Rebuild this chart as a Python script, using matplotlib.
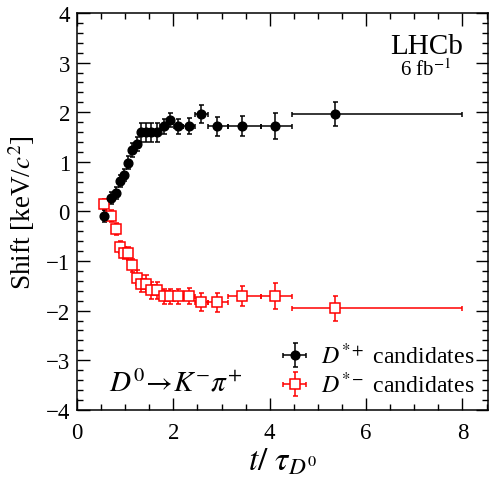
import numpy as np
import matplotlib
matplotlib.use("Agg")
import matplotlib.pyplot as plt
from matplotlib.ticker import MultipleLocator

plt.rcParams['font.family'] = ['Liberation Serif', 'DejaVu Serif']
plt.rcParams['mathtext.fontset'] = 'stix'

# bin centres and edges in t/tau
t_centres = [0.57, 0.71, 0.81, 0.90, 0.98, 1.07, 1.15, 1.245, 1.33, 1.43, 1.535,
             1.66, 1.80, 1.94, 2.10, 2.32, 2.57, 2.91, 3.43, 4.11, 5.35]
t_edges = [0.49, 0.64, 0.76, 0.85, 0.94, 1.02, 1.11, 1.20, 1.29, 1.38, 1.48,
           1.59, 1.73, 1.87, 2.02, 2.20, 2.45, 2.71, 3.13, 3.81, 4.47, 8.0]

# D*+ candidates
shift_plus = [-0.10, 0.27, 0.38, 0.62, 0.74, 0.98, 1.24, 1.36, 1.60, 1.60, 1.60,
              1.60, 1.72, 1.85, 1.72, 1.72, 1.97, 1.72, 1.72, 1.72, 1.97]
err_plus = [0.12, 0.12, 0.12, 0.12, 0.12, 0.13, 0.14, 0.15, 0.19, 0.19, 0.19,
            0.19, 0.15, 0.14, 0.15, 0.16, 0.18, 0.19, 0.20, 0.26, 0.24]

# D*- candidates
shift_minus = [0.14, -0.10, -0.35, -0.72, -0.84, -0.84, -1.09, -1.34, -1.46, -1.46, -1.59,
               -1.59, -1.71, -1.71, -1.71, -1.71, -1.83, -1.83, -1.70, -1.70, -1.95]
err_minus = [0.12, 0.12, 0.12, 0.12, 0.12, 0.13, 0.14, 0.15, 0.17, 0.17, 0.17,
             0.17, 0.15, 0.15, 0.15, 0.16, 0.18, 0.19, 0.20, 0.26, 0.25]

t = np.array(t_centres)
edges = np.array(t_edges)
xerr = np.vstack([t - edges[:-1], edges[1:] - t])

fig = plt.figure(figsize=(4.9, 4.85), dpi=100)
ax = fig.add_axes([0.157, 0.153, 0.839, 0.818])

hm = ax.errorbar(t, shift_minus, yerr=err_minus, xerr=xerr, fmt='s', color='red',
                 mfc='white', mec='red', ms=7, mew=1.1, elinewidth=1.1,
                 capsize=1.8, capthick=1.1)
hp = ax.errorbar(t, shift_plus, yerr=err_plus, xerr=xerr, fmt='o', color='black',
                 ms=6.3, elinewidth=1.1, capsize=1.8, capthick=1.1)

ax.set_xlim(0, 8.53)
ax.set_ylim(-4, 4)
ax.xaxis.set_major_locator(MultipleLocator(2))
ax.xaxis.set_minor_locator(MultipleLocator(0.5))
ax.yaxis.set_major_locator(MultipleLocator(1))
ax.yaxis.set_minor_locator(MultipleLocator(0.2))
ax.tick_params(which='both', direction='in', top=True, right=True, labelsize=16.5, width=1)
ax.tick_params(which='major', length=9)
ax.tick_params(which='minor', length=4.5)
ax.tick_params(axis='x', pad=9)
ax.tick_params(axis='y', pad=5)
for s in ax.spines.values():
    s.set_linewidth(1.1)

ax.set_ylabel(r'Shift [keV/$c^2$]', fontsize=19.5, labelpad=6)
ax.set_xlabel(r'$t/\ \tau_{D^0}$', fontsize=24, labelpad=2)

ax.text(0.85, 0.917, 'LHCb', transform=ax.transAxes, fontsize=21, ha='center', va='center')
ax.text(0.847, 0.858, r'6 fb$^{-1}$', transform=ax.transAxes, fontsize=15, ha='center', va='center')
ax.text(0.24, 0.068, r'$D^0\!\rightarrow\! K^{-}\pi^{+}$', transform=ax.transAxes,
        fontsize=21, ha='center', va='center')

ax.legend([hp, hm], [r'$D^{*+}$ candidates', r'$D^{*-}$ candidates'], loc='lower right',
          bbox_to_anchor=(0.99, 0.008), frameon=False, fontsize=17.2, handlelength=1.4,
          handletextpad=0.4, labelspacing=0.12, borderaxespad=0)

fig.savefig('out.png', dpi=100)
